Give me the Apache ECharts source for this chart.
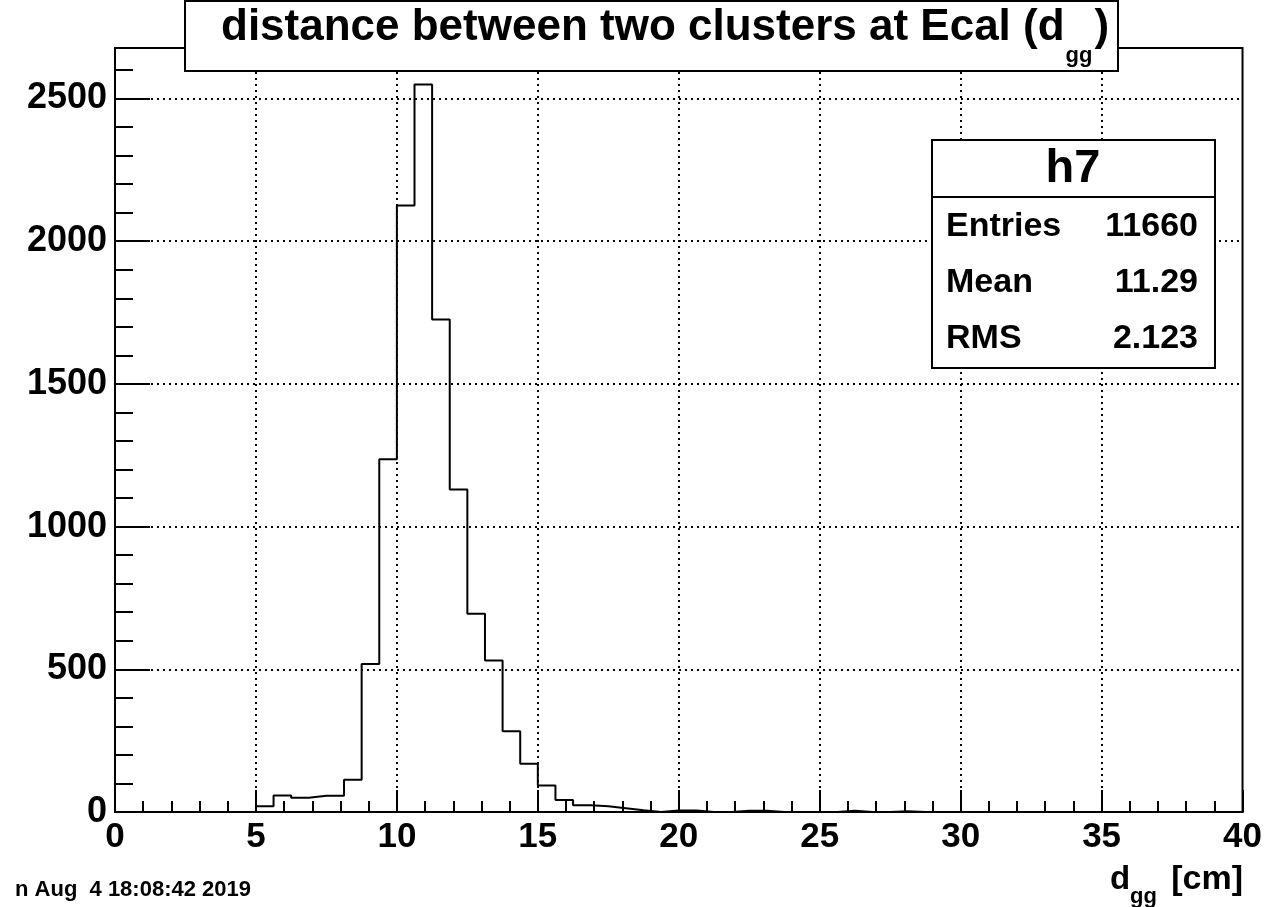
<!DOCTYPE html>
<html>
<head>
<meta charset="utf-8">
<script src="https://cdn.jsdelivr.net/npm/echarts@6/dist/echarts.min.js"></script>
<style>
html,body{margin:0;padding:0;background:#fff;}
#chart{width:1265px;height:907px;}
</style>
</head>
<body>
<div id="chart"></div>
<script>
// ---- data ----
const histName = 'h7';
const titleMain = 'distance between two clusters at Ecal (d';
const titleSub = 'gg';
const titleEnd = ')';
const xAxisMin = 0;
const xAxisMax = 40;
const binLow = 0;
const binWidth = 0.625;
// 64 bins from 0 to 40
const binCounts = [
  0, 0, 0, 0, 0, 0, 0, 0,
  20, 58, 50, 57, 57, 113, 519, 1236,
  2125, 2549, 1726, 1130, 695, 531, 283, 169,
  93, 42, 24, 20, 13, 6, 0, 5,
  5, 0, 0, 4, 4, 0, 0, 0,
  0, 4, 0, 0, 3, 0, 0, 0,
  0, 0, 0, 0, 0, 0, 0, 0,
  0, 0, 0, 0, 0, 0, 0, 0
];
const yAxisMax = 2677;
const xTickLabels = ['0', '5', '10', '15', '20', '25', '30', '35', '40'];
const yTickLabels = ['0', '500', '1000', '1500', '2000', '2500'];
const statsLabels = ['Entries', 'Mean', 'RMS'];
const statsValues = ['11660', '11.29', '2.123'];
const dateText = 'n Aug  4 18:08:42 2019';

// ---- build step outline ----
const points = [[xAxisMin, 0]];
for (let i = 0; i < binCounts.length; i++) {
  points.push([binLow + i * binWidth, binCounts[i]]);
}
points.push([binLow + binCounts.length * binWidth, binCounts[binCounts.length - 1]]);

const FONT = '"Liberation Sans", Arial, Helvetica, sans-serif';
const cvs = document.createElement('canvas');
const ctx = cvs.getContext('2d');
function tw(str, size) { ctx.font = 'bold ' + size + 'px ' + FONT; return ctx.measureText(str).width; }

const chart = echarts.init(document.getElementById('chart'), null, {renderer: 'canvas'});

const titleSize = 44, titleSubSize = 22;
const tStart = 221;
const wMain = tw(titleMain, titleSize);
const wSub = tw(titleSub, titleSubSize);

const dotted = {color: '#000', width: 2, type: [2, 4]};

const graphics = [
  // title box
  {type: 'rect', z: 100, shape: {x: 185, y: 1, width: 933, height: 70},
   style: {fill: '#fff', stroke: '#000', lineWidth: 2}},
  {type: 'text', z: 101, x: tStart, y: 28,
   style: {text: titleMain, font: 'bold ' + titleSize + 'px ' + FONT, fill: '#000', align: 'left', verticalAlign: 'middle'}},
  {type: 'text', z: 101, x: tStart + wMain + 1, y: 56,
   style: {text: titleSub, font: 'bold ' + titleSubSize + 'px ' + FONT, fill: '#000', align: 'left', verticalAlign: 'middle'}},
  {type: 'text', z: 101, x: tStart + wMain + wSub + 3, y: 28,
   style: {text: titleEnd, font: 'bold ' + titleSize + 'px ' + FONT, fill: '#000', align: 'left', verticalAlign: 'middle'}},
  // stats box
  {type: 'rect', z: 100, shape: {x: 932, y: 140, width: 283, height: 228},
   style: {fill: '#fff', stroke: '#000', lineWidth: 2}},
  {type: 'line', z: 101, shape: {x1: 932, y1: 197, x2: 1215, y2: 197},
   style: {stroke: '#000', lineWidth: 2}},
  {type: 'text', z: 101, x: 1073, y: 169,
   style: {text: histName, font: 'bold 47px ' + FONT, fill: '#000', align: 'center', verticalAlign: 'middle'}},
  // x axis title
  {type: 'text', z: 101, x: 1110, y: 880,
   style: {text: 'd', font: 'bold 33px ' + FONT, fill: '#000', align: 'left', verticalAlign: 'middle'}},
  {type: 'text', z: 101, x: 1130, y: 897,
   style: {text: 'gg', font: 'bold 22px ' + FONT, fill: '#000', align: 'left', verticalAlign: 'middle'}},
  {type: 'text', z: 101, x: 1243, y: 880,
   style: {text: '[cm]', font: 'bold 34px ' + FONT, fill: '#000', align: 'right', verticalAlign: 'middle'}},
  // date
  {type: 'text', z: 101, x: 15, y: 890,
   style: {text: dateText, font: 'bold 22px ' + FONT, fill: '#000', align: 'left', verticalAlign: 'middle'}}
];
const rowY = [227, 283, 339];
for (let i = 0; i < statsLabels.length; i++) {
  graphics.push({type: 'text', z: 101, x: 946, y: rowY[i],
    style: {text: statsLabels[i], font: 'bold 34px ' + FONT, fill: '#000', align: 'left', verticalAlign: 'middle'}});
  graphics.push({type: 'text', z: 101, x: 1198, y: rowY[i],
    style: {text: statsValues[i], font: 'bold 34px ' + FONT, fill: '#000', align: 'right', verticalAlign: 'middle'}});
}

const option = {
  animation: false,
  backgroundColor: '#fff',
  grid: {left: 115, right: 22, top: 48, bottom: 95, show: true, borderColor: '#000', borderWidth: 2, backgroundColor: 'transparent'},
  xAxis: {
    type: 'value', min: xAxisMin, max: xAxisMax, interval: 5,
    axisLine: {show: true, lineStyle: {color: '#000', width: 2}},
    axisTick: {show: true, inside: true, length: 22, lineStyle: {color: '#000', width: 2}},
    minorTick: {show: true, splitNumber: 5, length: 11, lineStyle: {color: '#000', width: 2}},
    splitLine: {show: true, showMinLine: false, showMaxLine: false, lineStyle: dotted},
    axisLabel: {
      margin: 8, color: '#000', fontSize: 35, fontWeight: 'bold', fontFamily: FONT,
      formatter: function (v) { const i = Math.round(v / 5); return xTickLabels[i] !== undefined && Math.abs(v - i * 5) < 1e-6 ? xTickLabels[i] : ''; }
    }
  },
  yAxis: [
    {
      type: 'value', min: 0, max: yAxisMax, interval: 500,
      axisLine: {show: true, lineStyle: {color: '#000', width: 2}},
      axisTick: {show: true, inside: true, length: 35, lineStyle: {color: '#000', width: 2}},
      splitLine: {show: true, showMinLine: false, showMaxLine: false, lineStyle: dotted},
      axisLabel: {
        margin: 8, color: '#000', fontSize: 36, fontWeight: 'bold', fontFamily: FONT, showMaxLabel: false,
        formatter: function (v) { const i = Math.round(v / 500); return (Math.abs(v - i * 500) < 1e-6 && yTickLabels[i] !== undefined) ? yTickLabels[i] : ''; }
      }
    },
    {
      type: 'value', min: 0, max: yAxisMax, interval: 100, position: 'left', offset: 0,
      axisLine: {show: false},
      axisTick: {show: true, inside: true, length: 18, lineStyle: {color: '#000', width: 2}},
      splitLine: {show: false},
      axisLabel: {show: false}
    }
  ],
  series: [{
    type: 'line', step: 'end', data: points, yAxisIndex: 0,
    symbol: 'none', showSymbol: false, silent: true,
    lineStyle: {color: '#000', width: 2},
    z: 5
  }],
  graphic: graphics
};
chart.setOption(option);
</script>
</body>
</html>
